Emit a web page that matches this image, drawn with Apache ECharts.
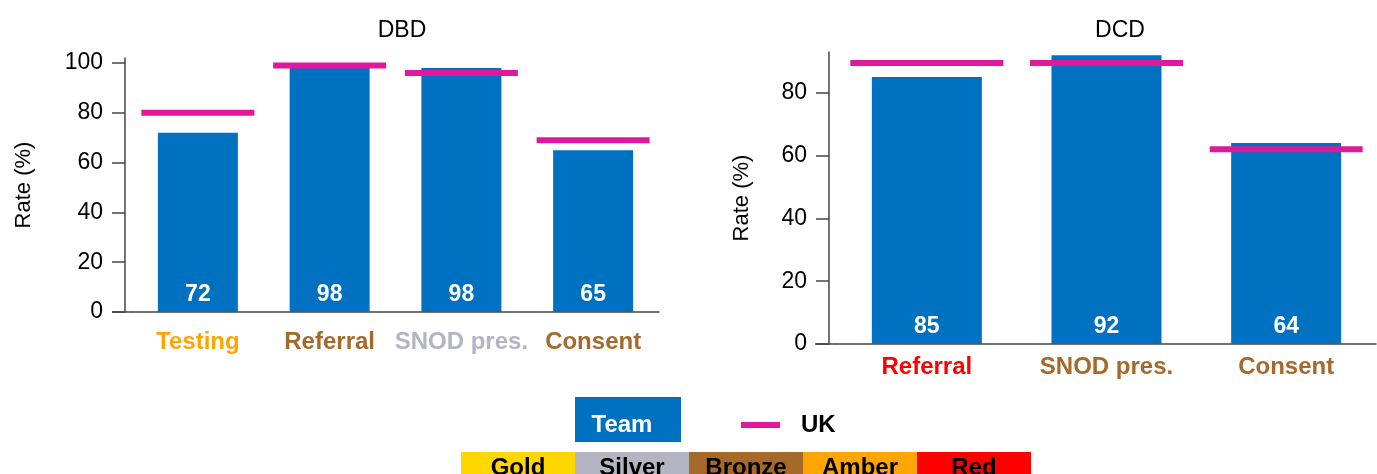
<!DOCTYPE html>
<html>
<head>
<meta charset="utf-8">
<script src="https://cdn.jsdelivr.net/npm/echarts@6/dist/echarts.min.js"></script>
<style>
html, body { margin: 0; padding: 0; background: #fff; }
#chart { width: 1377px; height: 474px; }
</style>
</head>
<body>
<div id="chart"></div>
<script>
// DBD panel
const dbdCategories = ['Testing', 'Referral', 'SNOD pres.', 'Consent']
const dbdTeam = [72, 98, 98, 65]
const dbdUK = [80, 99, 96, 69]
const dbdRating = ['Amber', 'Bronze', 'Silver', 'Bronze']

// DCD panel
const dcdCategories = ['Referral', 'SNOD pres.', 'Consent']
const dcdTeam = [85, 92, 64]
const dcdUK = [89.5, 89.5, 62]
const dcdRating = ['Red', 'Bronze', 'Bronze']

const dbdTicks = [0, 20, 40, 60, 80, 100]
const dcdTicks = [0, 20, 40, 60, 80]
const keyLabels = ['Gold', 'Silver', 'Bronze', 'Amber', 'Red']

const medalColor = {
    Gold: '#FFD700',
    Silver: '#B4B4C3',
    Bronze: '#A5692A',
    Amber: '#FFA500',
    Red: '#FF0000'
}
const teamColor = '#0070C0'
const ukColor = '#E0189B'
const axisColor = '#444'
const font = "'Liberation Sans', Arial, sans-serif"

let chart = echarts.init(document.getElementById('chart'))

function yAxisFor(gridIndex, max, ticks, gap){
    return {
        type: 'value',
        gridIndex: gridIndex,
        min: 0,
        max: max,
        interval: 20,
        offset: gridIndex === 0 ? 7 : 8,
        name: 'Rate (%)',
        nameLocation: 'middle',
        nameGap: gap,
        nameTextStyle: { fontFamily: font, fontSize: 22, color: '#000' },
        splitLine: { show: false },
        axisLine: { show: true, lineStyle: { color: axisColor, width: 1.5 } },
        axisTick: { show: true, length: 13, customValues: ticks,
                    lineStyle: { color: axisColor, width: 1.5 } },
        axisLabel: {
            margin: 22, fontFamily: font, fontSize: 23, color: '#000',
            customValues: ticks
        }
    }
}

function xAxisFor(gridIndex, cats, rating, margin){
    return {
        type: 'category',
        gridIndex: gridIndex,
        data: cats,
        axisLine: { lineStyle: { color: axisColor, width: 1.5 } },
        axisTick: { alignWithLabel: true, length: 11, lineStyle: { color: axisColor, width: 1.5 } },
        axisLabel: {
            interval: 0,
            margin: margin, fontFamily: font, fontSize: 24, fontWeight: 'bold',
            color: v => medalColor[rating[cats.indexOf(v)]]
        }
    }
}

const barLabel = {
    show: true,
    position: 'insideBottom',
    distance: 6,
    color: '#fff',
    fontFamily: font,
    fontSize: 23,
    fontWeight: 'bold'
}

// colour key under the legend
let keyItems = []
keyLabels.forEach((k, i) => {
    keyItems.push({
        type: 'rect',
        shape: { x: 461 + i * 114, y: 452, width: 114, height: 30 },
        style: { fill: medalColor[k] }
    })
    keyItems.push({
        type: 'text',
        x: 461 + i * 114 + 57,
        y: 468,
        style: {
            text: k, fill: '#000', font: 'bold 24px ' + font,
            textAlign: 'center', textVerticalAlign: 'middle'
        }
    })
})

let option = {
    animation: false,
    title: [
        { text: 'DBD', left: 397, top: 14, textAlign: 'center',
          textStyle: { fontFamily: font, fontSize: 23, fontWeight: 'normal', color: '#000' } },
        { text: 'DCD', left: 1115, top: 14, textAlign: 'center',
          textStyle: { fontFamily: font, fontSize: 23, fontWeight: 'normal', color: '#000' } }
    ],
    grid: [
        { left: 132, right: 718, top: 58, bottom: 162 },
        { left: 837, right: 1, top: 52, bottom: 130 }
    ],
    xAxis: [
        xAxisFor(0, dbdCategories, dbdRating, 18),
        xAxisFor(1, dcdCategories, dcdRating, 11)
    ],
    yAxis: [
        yAxisFor(0, 102, dbdTicks, 90),
        yAxisFor(1, 93, dcdTicks, 76)
    ],
    series: [
        {
            name: 'Team', type: 'bar', xAxisIndex: 0, yAxisIndex: 0,
            barWidth: 80, data: dbdTeam,
            itemStyle: { color: teamColor }, label: barLabel
        },
        {
            name: 'UK', type: 'scatter', xAxisIndex: 0, yAxisIndex: 0,
            symbol: 'rect', symbolSize: [113, 6], data: dbdUK,
            itemStyle: { color: ukColor, opacity: 1 }, z: 5
        },
        {
            name: 'Team', type: 'bar', xAxisIndex: 1, yAxisIndex: 1,
            barWidth: 110, data: dcdTeam,
            itemStyle: { color: teamColor }, label: barLabel
        },
        {
            name: 'UK', type: 'scatter', xAxisIndex: 1, yAxisIndex: 1,
            symbol: 'rect', symbolSize: [153, 6], data: dcdUK,
            itemStyle: { color: ukColor, opacity: 1 }, z: 5
        }
    ],
    graphic: [
        // axis stubs left of the y axes, as in the original
        { type: 'line', shape: { x1: 112, y1: 312, x2: 132, y2: 312 },
          style: { stroke: axisColor, lineWidth: 1.5 } },
        { type: 'line', shape: { x1: 815, y1: 344, x2: 837, y2: 344 },
          style: { stroke: axisColor, lineWidth: 1.5 } },
        // legend
        { type: 'rect', shape: { x: 575, y: 397, width: 106, height: 45 },
          style: { fill: teamColor } },
        { type: 'text', x: 622, y: 425,
          style: { text: 'Team', fill: '#fff', font: 'bold 24px ' + font,
                   textAlign: 'center', textVerticalAlign: 'middle' } },
        { type: 'line', shape: { x1: 741, y1: 425, x2: 780, y2: 425 },
          style: { stroke: ukColor, lineWidth: 6 } },
        { type: 'text', x: 801, y: 425,
          style: { text: 'UK', fill: '#000', font: 'bold 24px ' + font,
                   textAlign: 'left', textVerticalAlign: 'middle' } }
    ].concat(keyItems)
}

chart.setOption(option)
window.addEventListener('resize', () => chart.resize())
</script>
</body>
</html>
